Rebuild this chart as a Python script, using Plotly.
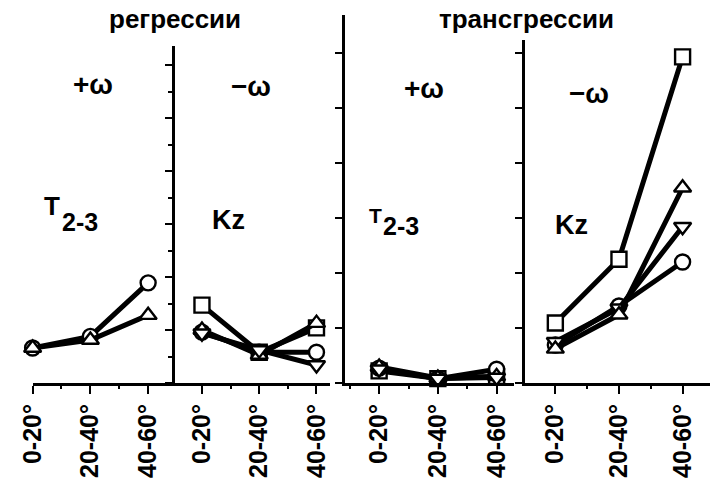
import plotly.graph_objects as go

categories = ["0-20°", "20-40°", "40-60°"]

# regression, +omega (T2-3)
reg_plus_circle = [0.66, 0.88, 1.89]
reg_plus_tri_up = [0.66, 0.81, 1.28]

# regression, -omega (Kz)
reg_minus_square = [1.47, 0.58, 1.04]
reg_minus_circle = [0.96, 0.58, 0.58]
reg_minus_tri_up = [1.00, 0.53, 1.13]
reg_minus_tri_down = [0.94, 0.62, 0.34]

# transgression, +omega (T2-3)
tr_plus_square = [0.22, 0.08, 0.12]
tr_plus_circle = [0.27, 0.08, 0.25]
tr_plus_tri_up = [0.29, 0.09, 0.12]
tr_plus_tri_down = [0.25, 0.08, 0.10]

# transgression, -omega (Kz)
tr_minus_square = [1.09, 2.25, 5.93]
tr_minus_circle = [0.69, 1.40, 2.20]
tr_minus_tri_up = [0.62, 1.24, 3.55]
tr_minus_tri_down = [0.75, 1.36, 2.84]

W, H = 710, 479
BASE = 383  # pixel row of x axes
FONT = "Liberation Sans, Arial, sans-serif"

xs = list(range(len(categories)))

panels = [
    ("", [("circle", reg_plus_circle), ("triangle-up", reg_plus_tri_up)]),
    ("2", [("square", reg_minus_square), ("circle", reg_minus_circle),
           ("triangle-up", reg_minus_tri_up), ("triangle-down", reg_minus_tri_down)]),
    ("3", [("square", tr_plus_square), ("circle", tr_plus_circle),
           ("triangle-up", tr_plus_tri_up), ("triangle-down", tr_plus_tri_down)]),
    ("4", [("circle", tr_minus_circle), ("triangle-down", tr_minus_tri_down),
           ("triangle-up", tr_minus_tri_up), ("square", tr_minus_square)]),
]

fig = go.Figure()
for suf, series in panels:
    for sym, vals in series:
        fig.add_trace(go.Scatter(
            x=xs, y=vals, mode="lines+markers",
            xaxis="x" + suf, yaxis="y" + suf,
            line=dict(color="black", width=5),
            marker=dict(symbol=sym, size=15, color="white",
                        line=dict(color="black", width=2.4)),
            cliponaxis=False, showlegend=False, hoverinfo="skip"))

def px_x(p):
    return p / W

def px_y(p):
    return (BASE - p) / BASE

# x axis geometry: (left px, right px, category0 px, spacing px)
xgeo = {"": (18, 163, 18, 59), "2": (163, 322, 191, 58.5),
        "3": (337, 510, 372, 60), "4": (521, 710, 552, 65)}
# y axis geometry: (top px, px per unit, visible)
ygeo = {"": (0, 53, False), "2": (46, 53, True),
        "3": (15, 55, True), "4": (40, 55, True)}

layout = dict(width=W, height=H, margin=dict(l=0, r=0, t=0, b=H - BASE),
              paper_bgcolor="white", plot_bgcolor="white",
              font=dict(family=FONT, color="black"))

for suf in ["", "2", "3", "4"]:
    l, r, c0, dx = xgeo[suf]
    layout["xaxis" + suf] = dict(
        domain=[px_x(l), px_x(r)], range=[(l - c0) / dx, (r - c0) / dx],
        anchor="y" + suf, tickmode="array", tickvals=xs, ticktext=categories,
        tickangle=-90, ticks="outside", ticklen=8, tickwidth=2, tickcolor="black",
        showline=True, linewidth=3, linecolor="black", showgrid=False, zeroline=False,
        tickfont=dict(family=FONT, size=25, color="black", weight="bold"),
        minor=dict(ticks="outside", ticklen=3, tickwidth=1.5, dtick=0.5,
                   tick0=0.5, tickcolor="black", showgrid=False),
        fixedrange=True)
    top, ppu, vis = ygeo[suf]
    ydict = dict(domain=[0, px_y(top)], range=[0, (BASE - top) / ppu],
                 anchor="x" + suf, showgrid=False, zeroline=False,
                 showticklabels=False, fixedrange=True)
    if vis:
        ydict.update(showline=True, linewidth=3, linecolor="black",
                     ticks="outside", ticklen=7, tickwidth=2, tickcolor="black",
                     tickmode="linear", tick0=0, dtick=1)
        if suf == "2":
            ydict["minor"] = dict(ticks="outside", ticklen=4, tickwidth=1.5,
                                  dtick=0.5, tick0=0.5, tickcolor="black",
                                  showgrid=False)
    else:
        ydict.update(showline=False, ticks="")
    layout["yaxis" + suf] = ydict

fig.update_layout(**layout)

def label(text, x, y, size):
    fig.add_annotation(text="<b>" + text + "</b>", x=px_x(x), y=px_y(y),
                       xref="paper", yref="paper", showarrow=False,
                       xanchor="center", yanchor="middle",
                       font=dict(family=FONT, size=size, color="black"))

label("регрессии", 163, 19, 26)
label("трансгрессии", 523, 19, 26)
label("+ω", 80, 84, 28)
label("−ω", 241, 86, 28)
label("+ω", 418, 88, 28)
label("−ω", 586, 93, 28)
label("T", 38, 206, 26)
label("2-3", 66, 222, 25)
label("Kz", 218, 220, 27)
label("T", 368, 216, 21)
label("2-3", 394, 226, 25)
label("Kz", 568, 225, 27)

fig.write_html("out.html")
